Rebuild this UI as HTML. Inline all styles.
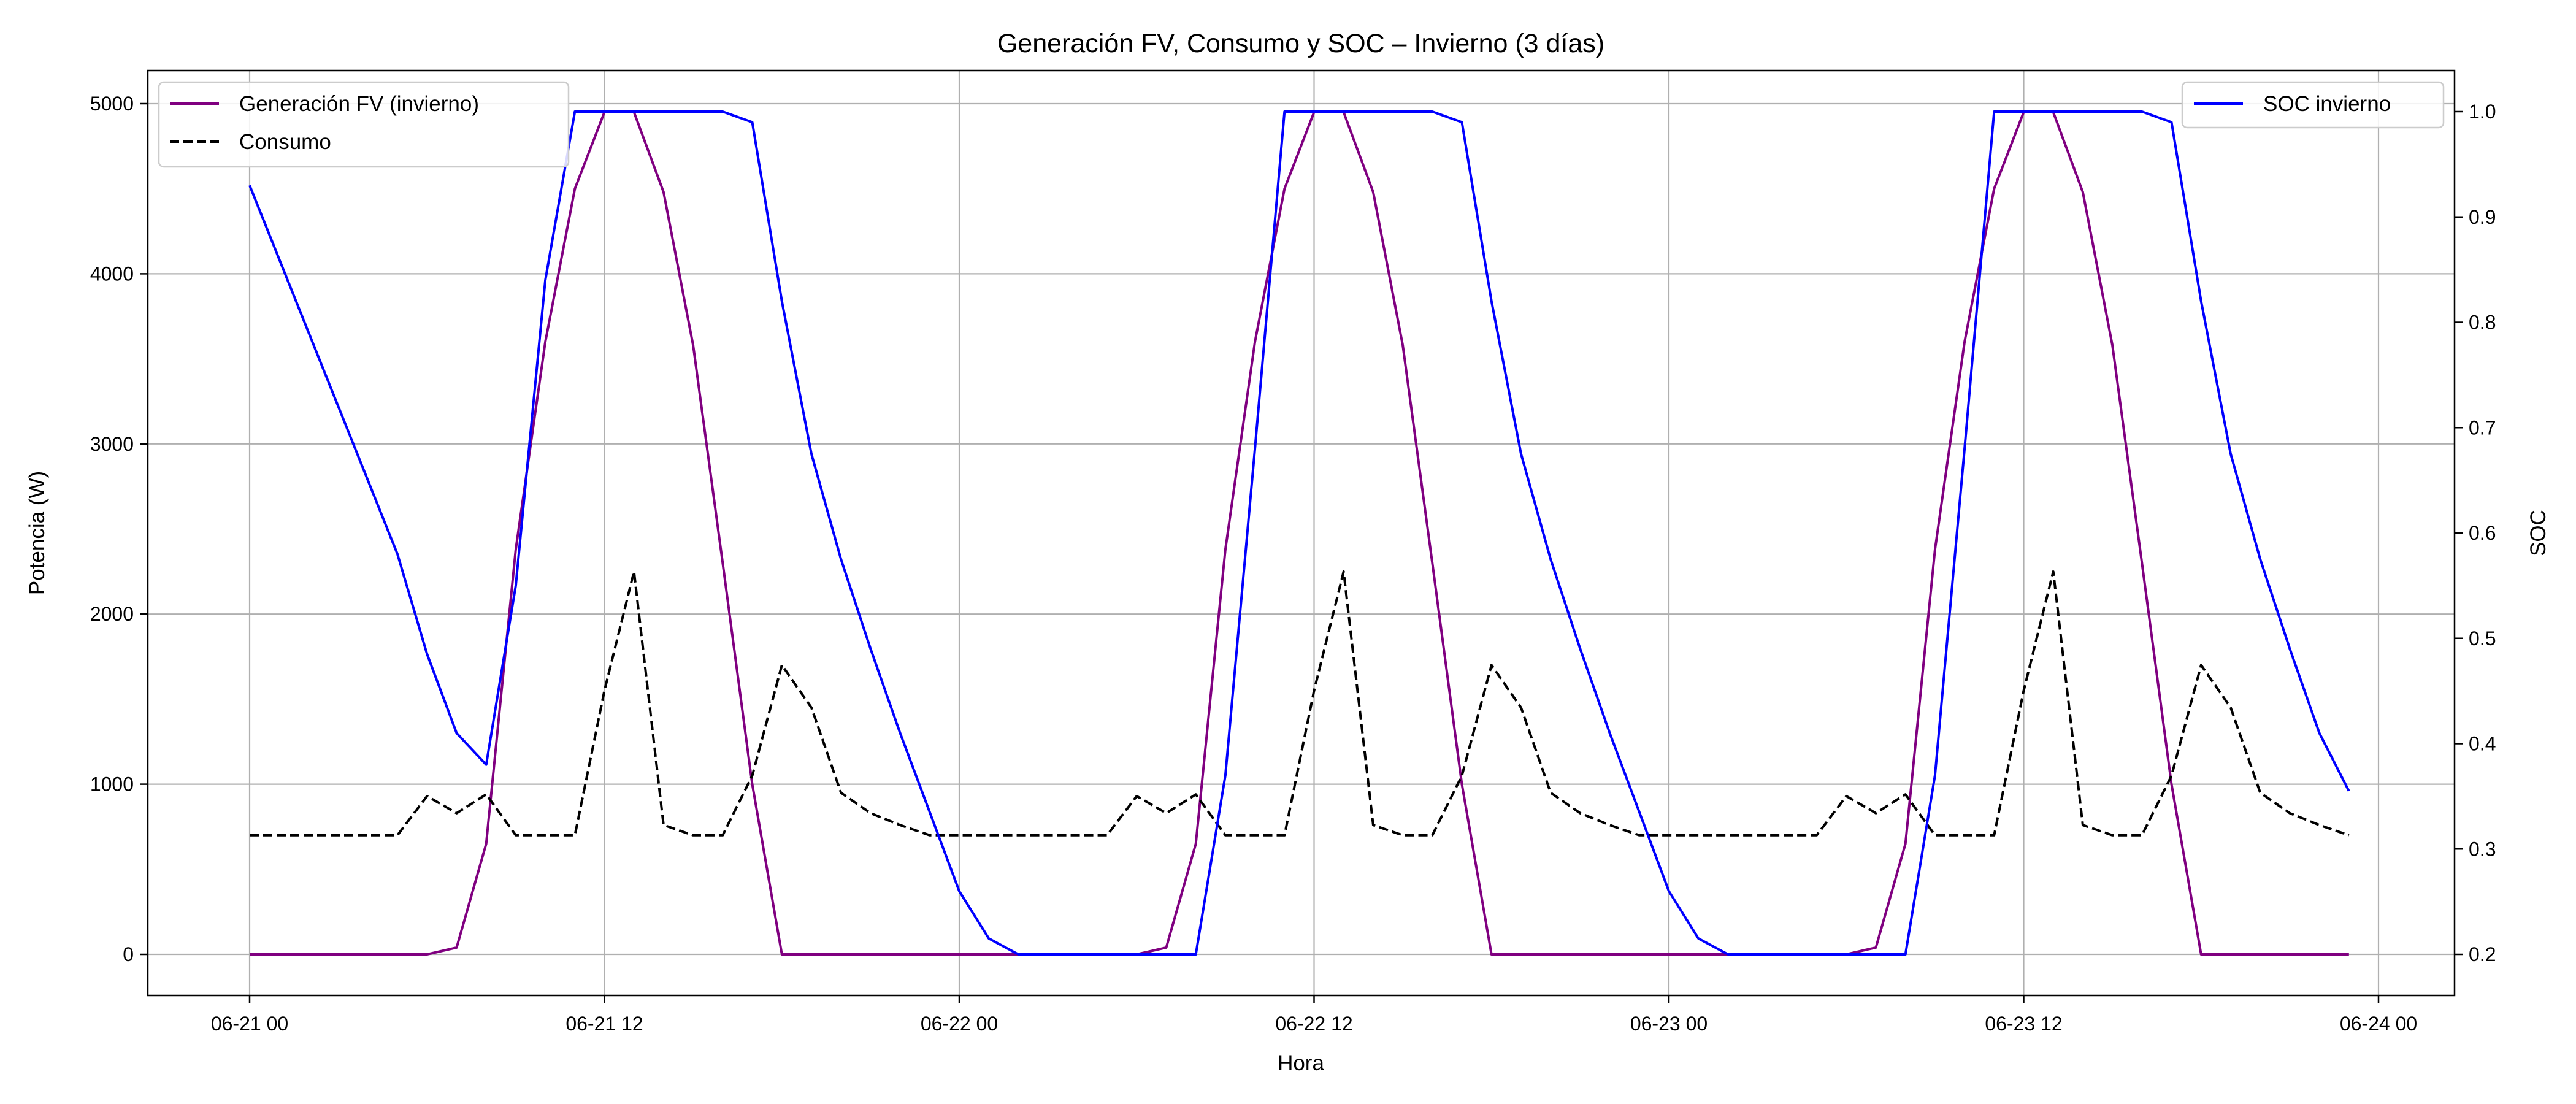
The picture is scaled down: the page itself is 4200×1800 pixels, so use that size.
<!DOCTYPE html>
<html><head><meta charset="utf-8"><style>
body{margin:0;background:#fff}
svg{display:block;font-family:"Liberation Sans","DejaVu Sans",sans-serif}
</style></head><body>
<svg id="chart" width="4200" height="1800" viewBox="0 0 4200 1800" xmlns="http://www.w3.org/2000/svg">
<rect width="4200" height="1800" fill="#fff"/>
<g id="grid"></g>
<g id="series"></g>
<rect x="241" y="115" width="3761" height="1508" fill="none" stroke="#000" stroke-width="2.5"/>
<g id="axes" font-size="32" fill="#000"></g>
<text x="2121" y="85" font-size="43" text-anchor="middle">Generación FV, Consumo y SOC – Invierno (3 días)</text>
<text x="2121" y="1745" font-size="35" text-anchor="middle">Hora</text>
<text transform="translate(72,869) rotate(-90)" font-size="35" text-anchor="middle">Potencia (W)</text>
<text transform="translate(4150,869) rotate(-90)" font-size="35" text-anchor="middle">SOC</text>
<g>
<rect x="259" y="134" width="668" height="138" rx="8" fill="#fff" fill-opacity="0.85" stroke="#ccc" stroke-width="2.5"/>
<g><line x1="277" y1="169" x2="357" y2="169" stroke="#800080" stroke-width="4"/><text x="390" y="181" font-size="35">Generación FV (invierno)</text></g>
<g><line x1="277" y1="231" x2="357" y2="231" stroke="#000" stroke-width="4" stroke-dasharray="15,7"/><text x="390" y="243" font-size="35">Consumo</text></g>
</g>
<g>
<rect x="3558" y="134" width="426" height="74" rx="8" fill="#fff" fill-opacity="0.85" stroke="#ccc" stroke-width="2.5"/>
<g><line x1="3577" y1="169" x2="3657" y2="169" stroke="#0000ff" stroke-width="4"/><text x="3690" y="181" font-size="35">SOC invierno</text></g>
</g>
</svg>
<script>
const genDay = [0,0,0,0,0,0,0,40,650,2380,3600,4500,4950,4950,4480,3580,2300,1000,0,0,0,0,0,0];
const consDay = [700,700,700,700,700,700,930,830,940,700,700,700,1550,2250,760,700,700,1050,1700,1450,950,830,760,700];
const soc = [0.93,0.86,0.79,0.72,0.65,0.58,0.485,0.41,0.38,0.55,0.84,1.0,1.0,1.0,1.0,1.0,1.0,0.99,0.82,0.675,0.575,0.49,0.41,0.335,
0.26,0.215,0.2,0.2,0.2,0.2,0.2,0.2,0.2,0.37,0.68,1.0,1.0,1.0,1.0,1.0,1.0,0.99,0.82,0.675,0.575,0.49,0.41,0.335,
0.26,0.215,0.2,0.2,0.2,0.2,0.2,0.2,0.2,0.37,0.68,1.0,1.0,1.0,1.0,1.0,1.0,0.99,0.82,0.675,0.575,0.49,0.41,0.355];
const gen = genDay.concat(genDay, genDay);
const cons = consDay.concat(consDay, consDay);
const xTickLabels = ["06-21 00","06-21 12","06-22 00","06-22 12","06-23 00","06-23 12","06-24 00"];
const yTicks = [0,1000,2000,3000,4000,5000];
const y2Ticks = [0.2,0.3,0.4,0.5,0.6,0.7,0.8,0.9,1.0];

const NS = "http://www.w3.org/2000/svg";
const X = h => 407 + h * (1157/24);
const Y = v => 1556 - v * (1387/5000);
const Y2 = s => 1556 - (s - 0.2) * (1374/0.8);
function mk(tag, attrs, parent){const e=document.createElementNS(NS,tag);for(const k in attrs)e.setAttribute(k,attrs[k]);parent.appendChild(e);return e;}
const grid=document.getElementById('grid'), axes=document.getElementById('axes'), series=document.getElementById('series');
xTickLabels.forEach((t,i)=>{const x=X(i*12);
 const g=mk('line',{x1:x,x2:x,y1:115,y2:1623,stroke:'#b0b0b0','stroke-width':2.2},grid);
 
 
 mk('line',{x1:x,x2:x,y1:1623,y2:1636,stroke:'#000','stroke-width':2.5},axes);
 const tx=mk('text',{x:x,y:1680,'text-anchor':'middle'},axes);tx.textContent=t;
 
 
});
yTicks.forEach(v=>{const y=Y(v);
 const g=mk('line',{x1:241,x2:4002,y1:y,y2:y,stroke:'#b0b0b0','stroke-width':2.2},grid);
 
 
 mk('line',{x1:228,x2:241,y1:y,y2:y,stroke:'#000','stroke-width':2.5},axes);
 const tx=mk('text',{x:218,y:y+11,'text-anchor':'end'},axes);tx.textContent=v;
 
 
});
y2Ticks.forEach(v=>{const y=Y2(v);
 mk('line',{x1:4002,x2:4015,y1:y,y2:y,stroke:'#000','stroke-width':2.5},axes);
 const tx=mk('text',{x:4025,y:y+11,'text-anchor':'start'},axes);tx.textContent=v.toFixed(1);
 
 
});
function line(arr, yf, color, dash, name){
 const d=arr.map((v,i)=>(i?'L':'M')+X(i).toFixed(1)+','+yf(v).toFixed(1)).join('');
 const p=mk('path',{d:d,fill:'none',stroke:color,'stroke-width':4,'stroke-linejoin':'round'},series);
 if(dash)p.setAttribute('stroke-dasharray',dash);
 
 
}
line(gen,Y,'#800080',null,'generacion-line');
line(cons,Y,'#000',"15,7",'consumo-line');
line(soc,Y2,'#0000ff',null,'soc-line');
</script>
</body></html>
